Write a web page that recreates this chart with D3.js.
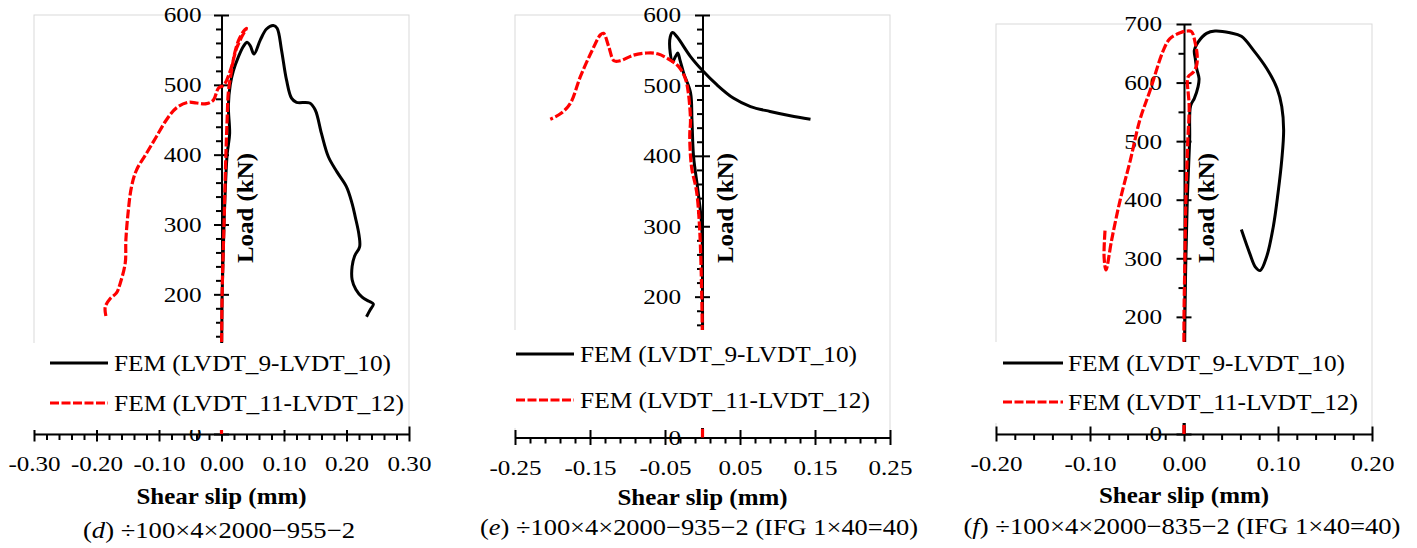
<!DOCTYPE html>
<html><head><meta charset="utf-8">
<script src="https://cdn.jsdelivr.net/npm/d3@7"></script>
<style>body{margin:0;background:#fff}svg{display:block}</style>
</head><body>
<svg id="c" width="1417" height="548"></svg>
<script>
// ---------- DATA ----------
const seriesNames = ["FEM (LVDT_9-LVDT_10)", "FEM (LVDT_11-LVDT_12)"];
const captionLetters = ["d", "e", "f"];
const captionTexts = [") \u00F7100\u00D74\u00D72000\u2212955\u22122",
                      ") \u00F7100\u00D74\u00D72000\u2212935\u22122 (IFG 1\u00D740=40)",
                      ") \u00F7100\u00D74\u00D72000\u2212835\u22122 (IFG 1\u00D740=40)"];
const xTitle = "Shear slip (mm)";
const yTitle = "Load (kN)";

const xTicksD = [-0.30, -0.20, -0.10, 0.00, 0.10, 0.20, 0.30];
const xTicksE = [-0.25, -0.15, -0.05, 0.05, 0.15, 0.25];
const xTicksF = [-0.20, -0.10, 0.00, 0.10, 0.20];
const yTicksD = [0, 100, 200, 300, 400, 500, 600];
const yTicksE = [0, 100, 200, 300, 400, 500, 600];
const yTicksF = [0, 100, 200, 300, 400, 500, 600, 700];

// [shear slip (mm), load (kN)]
const dBlack = [[0,0],[0.000,100],[0.001,200],[0.004,300],[0.009,400],[0.013,430],[0.011,470],[0.014,500],[0.019,520],[0.027,540],[0.035,555],[0.041,561],[0.046,556],[0.052,544],[0.062,564],[0.072,580],[0.083,585],[0.089,581],[0.096,550],[0.104,507],[0.112,481],[0.120,475],[0.141,474],[0.150,464],[0.160,430],[0.171,397],[0.185,375],[0.200,354],[0.209,330],[0.214,311],[0.220,285],[0.221,268],[0.213,255],[0.209,240],[0.209,221],[0.215,207],[0.225,196],[0.236,190],[0.243,186],[0.238,178],[0.232,168]];
const dRed = [[0,0],[0.000,100],[0.001,200],[0.004,300],[0.007,400],[0.009,450],[0.011,490],[0.016,520],[0.021,545],[0.027,563],[0.034,575],[0.040,581],[0.032,568],[0.024,552],[0.014,520],[0.004,500],[-0.005,495],[-0.013,478],[-0.024,473],[-0.040,474],[-0.053,475],[-0.072,467],[-0.088,450],[-0.104,426],[-0.120,402],[-0.136,378],[-0.144,354],[-0.149,321],[-0.153,278],[-0.154,245],[-0.162,216],[-0.168,202],[-0.178,194],[-0.186,182],[-0.185,169]];
const eBlack = [[0,0],[0,100],[0,200],[-0.001,300],[-0.006,350],[-0.012,400],[-0.014,450],[-0.016,490],[-0.025,517],[-0.030,536],[-0.033,546],[-0.036,541],[-0.040,534],[-0.043,546],[-0.043,569],[-0.040,575],[-0.034,569],[-0.016,541],[0.001,520],[0.019,501],[0.041,482],[0.064,470],[0.090,463],[0.117,457],[0.144,452]];
const eRed = [[0,0],[0,100],[-0.001,200],[-0.004,300],[-0.008,350],[-0.014,380],[-0.016,400],[-0.017,430],[-0.016,450],[-0.019,490],[-0.023,510],[-0.032,527],[-0.043,536],[-0.060,545],[-0.074,546],[-0.092,543],[-0.110,535],[-0.118,535],[-0.125,555],[-0.132,574],[-0.136,572],[-0.147,550],[-0.163,512],[-0.176,475],[-0.189,460],[-0.203,452]];
const fBlack = [[0,0],[0.001,200],[0.002,300],[0.0035,400],[0.006,500],[0.007,560],[0.011,573],[0.015,593],[0.016,607],[0.0135,624],[0.012,641],[0.011,655],[0.015,669],[0.024,684],[0.033,688],[0.049,685],[0.061,679],[0.074,655],[0.088,624],[0.099,590],[0.104,559],[0.106,519],[0.104,468],[0.100,411],[0.095,354],[0.088,303],[0.081,279],[0.076,285],[0.070,308],[0.061,349]];
const fRed = [[0,0],[0,200],[0.001,300],[0.002,400],[0.004,500],[0.0055,560],[0.004,590],[0.0035,600],[0.0045,610],[0.010,618],[0.0135,630],[0.014,647],[0.012,667],[0.008,687],[0.003,688],[-0.004,685],[-0.015,675],[-0.022,655],[-0.036,587],[-0.047,536],[-0.057,468],[-0.068,399],[-0.077,331],[-0.083,280],[-0.085,302],[-0.084,348]];

// ---------- LAYOUT ----------
const panels = [
  {xDom:[-0.3,0.3], xr:[34,409], yDom:[0,600], yr:[434,15], xMajor:xTicksD, yMajor:yTicksD, xMinor:0.02, yMinor:20,
   black:dBlack, red:dRed, leg:{x0:27,x1:405,y0:343,y1:430,lx0:50,lx1:108,tx:114,rows:[363,403]},
   capX:219, capY:538, capW:272, labOff:20, yTitleX:253, xTitleY:504},
  {xDom:[-0.25,0.25], xr:[515,890], yDom:[0,600], yr:[437.5,15], xMajor:xTicksE, yMajor:yTicksE, xMinor:0.02, yMinor:20,
   black:eBlack, red:eRed, leg:{x0:508,x1:887,y0:330,y1:428,lx0:516,lx1:574,tx:580,rows:[354,400]},
   capX:699, capY:535, capW:438, labOff:21.5, yTitleX:733, xTitleY:505},
  {xDom:[-0.2,0.2], xr:[996,1372], yDom:[0,700], yr:[434,24], xMajor:xTicksF, yMajor:yTicksF, xMinor:0.02, yMinor:50,
   black:fBlack, red:fRed, leg:{x0:989,x1:1368,y0:342,y1:423,lx0:1003,lx1:1063,tx:1068,rows:[363,402]},
   capX:1182, capY:534, capW:437, labOff:22, yTitleX:1214, xTitleY:503}
];

const svg = d3.select("#c");
svg.append("rect").attr("width",1417).attr("height",548).attr("fill","#fff");
const SERIF = "'Liberation Serif','Times New Roman',serif";
const DASH = "9,2.5";

function stretch(sel, k){ sel.each(function(){ const w=this.getComputedTextLength(); this.setAttribute("textLength", w*k); this.setAttribute("lengthAdjust","spacingAndGlyphs"); }); }
function fit(sel, w){ sel.attr("textLength", w).attr("lengthAdjust","spacingAndGlyphs"); }

panels.forEach((p, i) => {
  const x = d3.scaleLinear().domain(p.xDom).range(p.xr);
  const y = d3.scaleLinear().domain(p.yDom).range(p.yr);
  const g = svg.append("g");
  const x0 = x(0), y0 = y(0);
  const L = p.leg;

  // plot area border
  g.append("rect").attr("x", p.xr[0]).attr("y", p.yr[1]).attr("width", p.xr[1]-p.xr[0]).attr("height", p.yr[0]-p.yr[1])
    .attr("fill","none").attr("stroke","#d9d9d9").attr("stroke-width",1);

  const eps = 1e-9;
  const xMinorVals = d3.range(p.xDom[0], p.xDom[1]+eps, p.xMinor).filter(v => !p.xMajor.some(m => Math.abs(m-v)<1e-6));
  const yMinorVals = d3.range(p.yDom[0], p.yDom[1]+eps, p.yMinor).filter(v => !p.yMajor.some(m => Math.abs(m-v)<1e-6));

  // X axis minor
  const gxm = g.append("g").attr("transform",`translate(0,${y0})`)
    .call(d3.axisBottom(x).tickValues(xMinorVals).tickSize(6).tickSizeOuter(0).tickFormat(""));
  gxm.select(".domain").remove();
  gxm.selectAll("line").attr("stroke","#000").attr("stroke-width",2);
  // X axis major
  const gx = g.append("g").attr("transform",`translate(0,${y0})`)
    .call(d3.axisBottom(x).tickValues(p.xMajor).tickSize(7.5).tickSizeOuter(0).tickFormat(v => (Math.abs(v)<1e-9?0:v).toFixed(2)));
  gx.select(".domain").attr("stroke","#000").attr("stroke-width",2);
  gx.selectAll(".tick line").attr("y1",-7.5).attr("stroke","#000").attr("stroke-width",2);
  gx.selectAll(".tick text").attr("y",37).attr("dy",null).attr("fill","#000")
    .style("font-family",SERIF).style("font-size","22px");
  stretch(gx.selectAll(".tick text"), 1.14);

  // Y axis minor
  const gym = g.append("g").attr("transform",`translate(${x0},0)`)
    .call(d3.axisLeft(y).tickValues(yMinorVals).tickSize(5.5).tickSizeOuter(0).tickFormat(""));
  gym.select(".domain").remove();
  gym.selectAll("line").attr("stroke","#000").attr("stroke-width",2);
  // Y axis major
  const gy = g.append("g").attr("transform",`translate(${x0},0)`)
    .call(d3.axisLeft(y).tickValues(p.yMajor).tickSize(7.5).tickSizeOuter(0).tickFormat(d3.format("d")));
  gy.select(".domain").attr("stroke","#000").attr("stroke-width",2);
  gy.selectAll(".tick line").attr("x1",7.5).attr("stroke","#000").attr("stroke-width",2);
  gy.selectAll(".tick text").attr("x",-p.labOff).attr("dy","0.33em").attr("fill","#000")
    .style("font-family",SERIF).style("font-size","21px");
  // labels entirely hidden behind the legend box are not drawn
  gy.selectAll(".tick").filter(v => { const py = y(v); return py > L.y0 + 8 && py < L.y1 - 8; }).select("text").remove();
  stretch(gy.selectAll(".tick text"), 1.2);

  // series
  const line = d3.line().x(d => x(d[0])).y(d => y(d[1])).curve(d3.curveCatmullRom.alpha(0.5));
  g.append("path").datum(p.black).attr("d", line).attr("fill","none").attr("stroke","#000").attr("stroke-width",3).attr("stroke-linejoin","round");
  g.append("path").datum(p.red).attr("d", line).attr("fill","none").attr("stroke","#ff0000").attr("stroke-width",3.2).attr("stroke-dasharray",DASH);

  // Y title
  const yt = g.append("text").attr("transform",`translate(${p.yTitleX},208) rotate(-90)`).attr("text-anchor","middle")
    .style("font-family",SERIF).style("font-size","24px").style("font-weight","bold").text(yTitle);
  fit(yt, 110);

  // legend
  g.append("rect").attr("x",L.x0).attr("y",L.y0).attr("width",L.x1-L.x0).attr("height",L.y1-L.y0).attr("fill","#fff");
  const legW = [277, 290];
  seriesNames.forEach((name, k) => {
    const ry = L.rows[k];
    g.append("line").attr("x1",L.lx0).attr("x2",L.lx1).attr("y1",ry).attr("y2",ry)
      .attr("stroke", k===0 ? "#000" : "#ff0000").attr("stroke-width",3.2).attr("stroke-dasharray", k===0 ? null : DASH);
    const t = g.append("text").attr("x",L.tx).attr("y",ry+8).style("font-family",SERIF).style("font-size","24px").text(name);
    fit(t, legW[k]);
  });

  // X title
  const xt = g.append("text").attr("x", x0).attr("y", p.xTitleY).attr("text-anchor","middle")
    .style("font-family",SERIF).style("font-size","24px").style("font-weight","bold").text(xTitle);
  fit(xt, 170);

  // caption
  const cap = g.append("text").attr("x", p.capX).attr("y", p.capY).attr("text-anchor","middle")
    .style("font-family",SERIF).style("font-size","23px");
  cap.append("tspan").text("(");
  cap.append("tspan").style("font-style","italic").text(captionLetters[i]);
  cap.append("tspan").text(captionTexts[i]);
  fit(cap, p.capW);
});
</script>
</body></html>
